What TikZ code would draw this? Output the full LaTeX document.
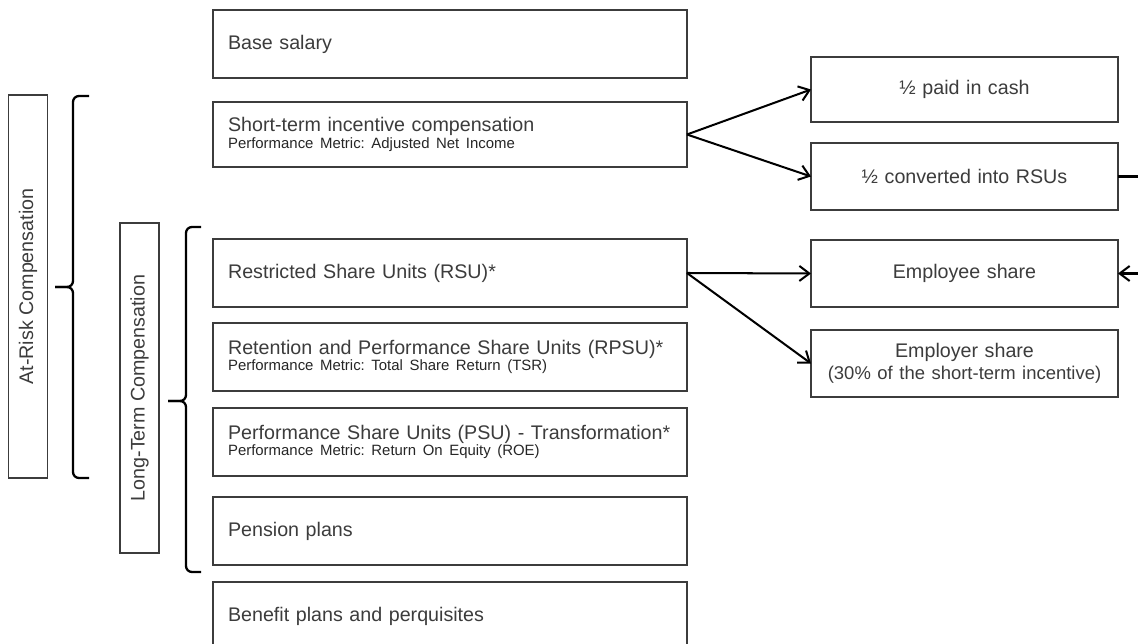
\documentclass[tikz,border=0pt]{standalone}
\usepackage{fontspec}
\setmainfont{Liberation Sans}
\usetikzlibrary{arrows.meta}
\definecolor{txt}{RGB}{60,60,60}
\definecolor{edge}{RGB}{60,60,60}
\frenchspacing
\begin{document}
\begin{tikzpicture}[x=0.02cm,y=-0.02cm,
  box/.style={draw=edge,line width=0.85pt,text=txt,inner xsep=0.3cm,inner ysep=0pt,outer sep=0pt,
    font=\fontsize{11.2}{13.4}\selectfont},
  lbox/.style={box,text width=8.88cm,align=left,minimum height=1.36cm},
  rbox/.style={box,text width=5.54cm,align=center,minimum height=1.34cm},
  vbox/.style={box,rotate=90,inner xsep=0pt,inner ysep=0pt,minimum height=0.78cm},
  arr/.style={draw=black,line width=1.15pt,-{Straight Barb[length=2mm,width=3mm,line width=1.15pt]}},
  brc/.style={draw=black,line width=1.3pt,rounded corners=0.12cm}]
\useasboundingbox (0,0) rectangle (1138,644);
\fill[white] (0,0) rectangle (1138,644);
\clip (0,0) rectangle (1138,644);
\newcommand\metric[1]{\\[-4pt]{\fontsize{8.5}{9}\selectfont\color{black!85}#1}}
% left column
\node[lbox] (base) at (450,44) {Base salary};
\node[lbox,minimum height=1.3cm] (short) at (450,134.5) {Short-term incentive compensation\metric{Performance Metric: Adjusted Net Income}};
\node[lbox] (rsu) at (450,273) {Restricted Share Units (RSU)*};
\node[lbox] (rpsu) at (450,357) {Retention and Performance Share Units (RPSU)*\metric{Performance Metric: Total Share Return (TSR)}};
\node[lbox] (psu) at (450,442) {Performance Share Units (PSU) - Transformation*\metric{Performance Metric: Return On Equity (ROE)}};
\node[lbox] (pension) at (450,531) {Pension plans};
\node[lbox] (benefit) at (450,616) {Benefit plans and perquisites};
% right column
\node[rbox,minimum height=1.3cm] (cash) at (964.5,89.5) {½ paid in cash};
\node[rbox] (conv) at (964.5,176.5) {½ converted into RSUs};
\node[rbox] (emp) at (964.5,273.5) {Employee share};
\node[rbox] (empr) at (964.5,363.5) {Employer share\\[-1pt]{\fontsize{10.5}{12}\selectfont(30\% of the short-term incentive)}};
% vertical labels
\node[vbox,minimum width=7.66cm] (risk) at (28,286.5) {At-Risk Compensation};
\node[vbox,minimum width=6.6cm] (lt) at (139.5,388) {Long-Term Compensation};
% braces
\draw[brc] (89,96) -- (73,96) -- (73,287) -- (55,287);
\draw[brc] (55,287) -- (73,287) -- (73,478) -- (89,478);
\draw[brc] (201,227) -- (186,227) -- (186,401) -- (168,401);
\draw[brc] (168,401) -- (186,401) -- (186,572) -- (201,572);
% connectors
\draw[arr] (short.east) -- (cash.west);
\draw[arr] (short.east) -- (conv.west);
\draw[arr] (rsu.east) -- (emp.west);
\draw[arr] (rsu.east) -- (empr.west);
\draw[arr] (conv.east) -- ++(40,0) |- (emp.east);
\end{tikzpicture}
\end{document}
